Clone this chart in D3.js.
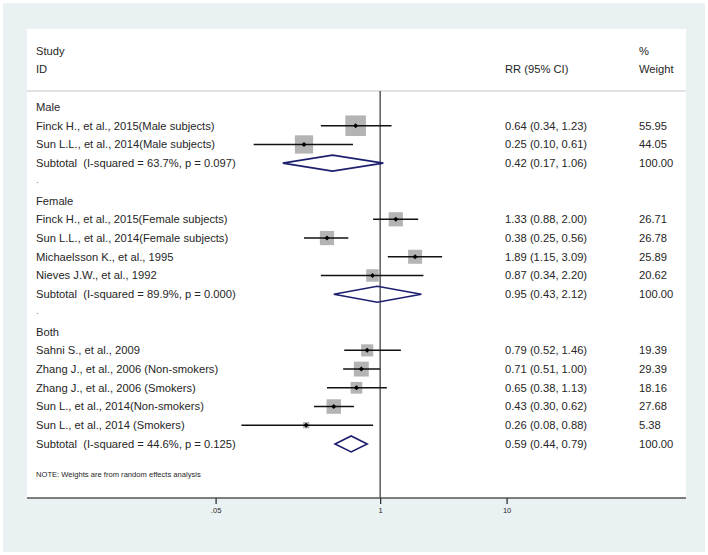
<!DOCTYPE html>
<html><head><meta charset="utf-8">
<script src="https://cdn.jsdelivr.net/npm/d3@7"></script>
<style>
html,body{margin:0;padding:0;background:#fff;}
text{font-family:"Liberation Sans",Arial,Helvetica,sans-serif;white-space:pre;}
</style></head>
<body>
<svg id="c" width="708" height="555"></svg>
<script>
// ---- data ----
const groupNames = ["Male", "Female", "Both"];
const studyLabels = [
  "Finck H., et al., 2015(Male subjects)",
  "Sun L.L., et al., 2014(Male subjects)",
  "Finck H., et al., 2015(Female subjects)",
  "Sun L.L., et al., 2014(Female subjects)",
  "Michaelsson K., et al., 1995",
  "Nieves J.W., et al., 1992",
  "Sahni S., et al., 2009",
  "Zhang J., et al., 2006 (Non-smokers)",
  "Zhang J., et al., 2006 (Smokers)",
  "Sun L., et al., 2014(Non-smokers)",
  "Sun L., et al., 2014 (Smokers)"
];
const studyGroup = [0, 0, 1, 1, 1, 1, 2, 2, 2, 2, 2];
const rr     = [0.64, 0.25, 1.33, 0.38, 1.89, 0.87, 0.79, 0.71, 0.65, 0.43, 0.26];
const ciLow  = [0.34, 0.10, 0.88, 0.25, 1.15, 0.34, 0.52, 0.51, 0.38, 0.30, 0.08];
const ciHigh = [1.23, 0.61, 2.00, 0.56, 3.09, 2.20, 1.46, 1.00, 1.13, 0.62, 0.88];
const weight = [55.95, 44.05, 26.71, 26.78, 25.89, 20.62, 19.39, 29.39, 18.16, 27.68, 5.38];
const rrText = ["0.64 (0.34, 1.23)", "0.25 (0.10, 0.61)", "1.33 (0.88, 2.00)", "0.38 (0.25, 0.56)",
  "1.89 (1.15, 3.09)", "0.87 (0.34, 2.20)", "0.79 (0.52, 1.46)", "0.71 (0.51, 1.00)",
  "0.65 (0.38, 1.13)", "0.43 (0.30, 0.62)", "0.26 (0.08, 0.88)"];
const weightText = ["55.95", "44.05", "26.71", "26.78", "25.89", "20.62", "19.39", "29.39", "18.16", "27.68", "5.38"];
const subtotalLabels = [
  "Subtotal  (I-squared = 63.7%, p = 0.097)",
  "Subtotal  (I-squared = 89.9%, p = 0.000)",
  "Subtotal  (I-squared = 44.6%, p = 0.125)"
];
const subRR   = [0.42, 0.95, 0.59];
const subLow  = [0.17, 0.43, 0.44];
const subHigh = [1.06, 2.12, 0.79];
const subRRText = ["0.42 (0.17, 1.06)", "0.95 (0.43, 2.12)", "0.59 (0.44, 0.79)"];
const subWeightText = ["100.00", "100.00", "100.00"];
const tickValues = [0.05, 1, 10];
const tickLabels = [".05", "1", "10"];
const noteText = "NOTE: Weights are from random effects analysis";

// ---- build rows ----
const rows = [];
groupNames.forEach((g, gi) => {
  rows.push({type: "group", label: g});
  studyLabels.forEach((s, i) => {
    if (studyGroup[i] === gi) rows.push({type: "study", i});
  });
  rows.push({type: "sub", gi});
  rows.push({type: "dot"});
});

const svg = d3.select("#c");
const textColor = "#262626";

// background
svg.append("rect").attr("x", 3).attr("y", 3).attr("width", 702).attr("height", 549).attr("fill", "#eaf1f3");
svg.append("rect").attr("x", 27).attr("y", 29).attr("width", 659).attr("height", 469).attr("fill", "#fff");

// scales
const x = d3.scaleLog().domain([0.05, 10]).range([215.6, 506.6]);
const y = d3.scalePoint().domain(d3.range(rows.length)).range([107, 107 + 18.72 * (rows.length - 1)]);
const box = d3.scaleSqrt().domain([0, 100]).range([0, 27.5]);

// header
const hdr = svg.append("g").attr("fill", textColor).attr("font-size", 11.2);
hdr.append("text").attr("x", 36).attr("y", 51).attr("dy", "0.35em").text("Study");
hdr.append("text").attr("x", 36).attr("y", 69).attr("dy", "0.35em").text("ID");
hdr.append("text").attr("x", 505).attr("y", 69).attr("dy", "0.35em").text("RR (95% CI)");
hdr.append("text").attr("x", 639).attr("y", 51).attr("dy", "0.35em").text("%");
hdr.append("text").attr("x", 639).attr("y", 69).attr("dy", "0.35em").text("Weight");
svg.append("line").attr("x1", 27).attr("x2", 686).attr("y1", 91).attr("y2", 91)
  .attr("stroke", "#c4c8ca").attr("stroke-width", 1.2);

// null line
svg.append("line").attr("x1", x(1)).attr("x2", x(1)).attr("y1", 91).attr("y2", 498)
  .attr("stroke", "#333").attr("stroke-width", 1.2);

// rows
const g = svg.append("g");
rows.forEach((r, k) => {
  const yy = y(k);
  if (r.type === "group") {
    g.append("text").attr("x", 36).attr("y", yy).attr("dy", "0.35em").attr("font-size", 11.2)
      .attr("fill", textColor).text(r.label);
  } else if (r.type === "dot") {
    if (k < rows.length - 1)
      g.append("text").attr("x", 36).attr("y", yy).attr("dy", "0.1em").attr("font-size", 9)
        .attr("fill", "#777").text(".");
  } else if (r.type === "study") {
    const i = r.i;
    g.append("text").attr("x", 36).attr("y", yy).attr("dy", "0.35em").attr("font-size", 11.2)
      .attr("fill", textColor).text(studyLabels[i]);
    g.append("text").attr("x", 505).attr("y", yy).attr("dy", "0.35em").attr("font-size", 11.2)
      .attr("fill", textColor).text(rrText[i]);
    g.append("text").attr("x", 639).attr("y", yy).attr("dy", "0.35em").attr("font-size", 11.2)
      .attr("fill", textColor).text(weightText[i]);
    const s = box(weight[i]);
    g.append("rect").attr("x", x(rr[i]) - s / 2).attr("y", yy - s / 2).attr("width", s).attr("height", s)
      .attr("fill", "#b4b4b4");
    g.append("line").attr("x1", x(ciLow[i])).attr("x2", x(ciHigh[i])).attr("y1", yy).attr("y2", yy)
      .attr("stroke", "#111").attr("stroke-width", 1.5);
    g.append("path").attr("transform", `translate(${x(rr[i])},${yy})`)
      .attr("d", d3.symbol(d3.symbolDiamond2, 16)()).attr("fill", "#000");
  } else if (r.type === "sub") {
    const gi = r.gi;
    g.append("text").attr("x", 36).attr("y", yy).attr("dy", "0.35em").attr("font-size", 11.2)
      .attr("fill", textColor).text(subtotalLabels[gi]);
    g.append("text").attr("x", 505).attr("y", yy).attr("dy", "0.35em").attr("font-size", 11.2)
      .attr("fill", textColor).text(subRRText[gi]);
    g.append("text").attr("x", 639).attr("y", yy).attr("dy", "0.35em").attr("font-size", 11.2)
      .attr("fill", textColor).text(subWeightText[gi]);
    const h = 8;
    const pts = [[x(subLow[gi]), yy], [x(subRR[gi]), yy - h], [x(subHigh[gi]), yy], [x(subRR[gi]), yy + h]];
    g.append("path").attr("d", d3.line()(pts) + "Z").attr("fill", "none")
      .attr("stroke", "#1c1f6e").attr("stroke-width", 1.6);
  }
});

// note
svg.append("text").attr("x", 36).attr("y", 474).attr("dy", "0.35em").attr("font-size", 7.6)
  .attr("fill", textColor).text(noteText);

// axis
svg.append("line").attr("x1", 27).attr("x2", 686).attr("y1", 498).attr("y2", 498)
  .attr("stroke", "#555").attr("stroke-width", 1.5);
const axis = d3.axisBottom(x).tickValues(tickValues).tickSize(6).tickPadding(4)
  .tickFormat((d, i) => tickLabels[i]);
const ag = svg.append("g").attr("transform", "translate(0,498)").call(axis);
ag.select(".domain").remove();
ag.selectAll(".tick line").attr("stroke", "#333").attr("stroke-width", 1.3);
ag.selectAll(".tick text").attr("fill", textColor).attr("font-size", 7.6)
  .attr("font-family", "Liberation Sans, Arial, sans-serif");
</script>
</body></html>
